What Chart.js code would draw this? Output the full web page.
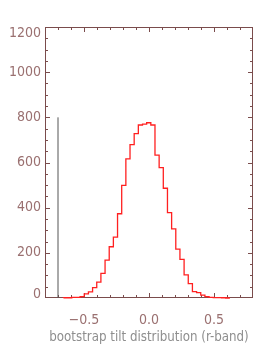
<!DOCTYPE html>
<html>
<head>
<meta charset="utf-8">
<script src="https://cdn.jsdelivr.net/npm/chart.js@4.4.1/dist/chart.umd.min.js"></script>
<style>
html,body{margin:0;padding:0;background:#fff;}
#wrap{width:274px;height:354px;}
</style>
</head>
<body>
<div id="wrap"><canvas id="c" width="274" height="354"></canvas></div>
<script>
// ---- data ----
const binEdges = [-0.658, -0.626, -0.594, -0.562, -0.530, -0.498, -0.466, -0.434, -0.402, -0.370,
  -0.338, -0.306, -0.274, -0.242, -0.210, -0.178, -0.146, -0.114, -0.082, -0.050,
  -0.018, 0.014, 0.046, 0.078, 0.110, 0.142, 0.174, 0.206, 0.238, 0.270,
  0.302, 0.334, 0.366, 0.398, 0.430, 0.462, 0.494, 0.526, 0.558, 0.590, 0.622];
const binCounts = [0, 1, 1, 3, 3, 6, 18, 27, 46, 70,
  109, 168, 227, 270, 373, 499, 616, 679, 728, 766,
  770, 776, 766, 633, 577, 486, 378, 306, 216, 171,
  102, 64, 28, 24, 13, 6, 3, 2, 2, 1];
const markerX = [-0.7];
const markerHeight = [800];
const xTickValues = [-0.5, 0.0, 0.5];
const yTickValues = [0, 200, 400, 600, 800, 1000, 1200];
const xTitle = 'bootstrap tilt distribution (r-band)';

// ---- build tables ----
const histPoints = [{x: binEdges[0], y: 0}];
for (let i = 0; i < binCounts.length; i++) histPoints.push({x: binEdges[i], y: binCounts[i]});
histPoints.push({x: binEdges[binEdges.length - 1], y: 0});
const markerPoints = [{x: markerX[0], y: 0}, {x: markerX[0], y: markerHeight[0]}];

const FONT = "'Liberation Sans Narrow', 'DejaVu Sans Condensed', 'Liberation Sans', sans-serif";
const AXIS = '#7a4c4c';
const LABEL = '#9a7070';
const TITLE = '#8e8e8e';

const fmt = v => (v < 0 ? '\u2212' : '') + Math.abs(v).toFixed(1);

const framePlugin = {
  id: 'frame',
  beforeDatasetsDraw(chart) {
    const {ctx, chartArea: a, scales: {x, y}} = chart;
    ctx.save();
    ctx.strokeStyle = AXIS;
    ctx.lineWidth = 1;
    ctx.strokeRect(Math.round(a.left) + 0.5, Math.round(a.top) + 0.5,
      Math.round(a.right - a.left) - 1, Math.round(a.bottom - a.top) - 1);
    ctx.beginPath();
    for (let k = -7; k <= 7; k++) {
      const px = Math.round(x.getPixelForValue(k / 10)) + 0.5;
      const len = (k % 5 === 0) ? 5 : 3;
      ctx.moveTo(px, a.bottom); ctx.lineTo(px, a.bottom - len);
      ctx.moveTo(px, a.top); ctx.lineTo(px, a.top + len);
    }
    for (let v = 50; v < 1200; v += 50) {
      const py = Math.round(y.getPixelForValue(v)) + 0.5;
      const len = (v % 200 === 0) ? 5 : 3;
      ctx.moveTo(a.left, py); ctx.lineTo(a.left + len, py);
      ctx.moveTo(a.right, py); ctx.lineTo(a.right - len, py);
    }
    ctx.stroke();
    // y labels, kept inside the frame at the ends
    ctx.fillStyle = LABEL;
    ctx.font = '14px ' + FONT;
    ctx.textAlign = 'right';
    ctx.textBaseline = 'middle';
    yTickValues.forEach(v => {
      let py = y.getPixelForValue(v);
      py = Math.max(a.top + 6, Math.min(a.bottom - 4, py));
      ctx.fillText(String(v), a.left - 4, py);
    });
    ctx.restore();
  }
};

new Chart(document.getElementById('c'), {
  type: 'line',
  data: {
    datasets: [
      {data: histPoints, stepped: 'after', borderColor: '#ff2020', borderWidth: 1.3,
       pointRadius: 0, fill: false, clip: 4},
      {data: markerPoints, borderColor: '#555555', borderWidth: 1, pointRadius: 0, fill: false}
    ]
  },
  options: {
    responsive: false,
    animation: false,
    events: [],
    layout: {padding: {top: 27, right: 21, left: 0, bottom: 0}},
    plugins: {legend: {display: false}, tooltip: {enabled: false}},
    scales: {
      x: {
        type: 'linear', min: -0.8, max: 0.8,
        afterBuildTicks: s => { s.ticks = xTickValues.map(v => ({value: v})); },
        afterFit: s => { s.height = 56; },
        grid: {display: false, drawTicks: false},
        border: {display: false},
        ticks: {color: LABEL, font: {family: FONT, size: 14}, padding: 14, maxRotation: 0,
                callback: v => fmt(v)},
        title: {display: true, text: xTitle, color: TITLE, font: {family: FONT, size: 13.2},
                padding: {top: 0, bottom: 9}}
      },
      y: {
        type: 'linear', min: 0, max: 1200,
        afterBuildTicks: s => { s.ticks = yTickValues.map(v => ({value: v})); },
        afterFit: s => { s.width = 45; },
        grid: {display: false, drawTicks: false},
        border: {display: false},
        ticks: {display: false}
      }
    }
  },
  plugins: [framePlugin]
});
</script>
</body>
</html>
